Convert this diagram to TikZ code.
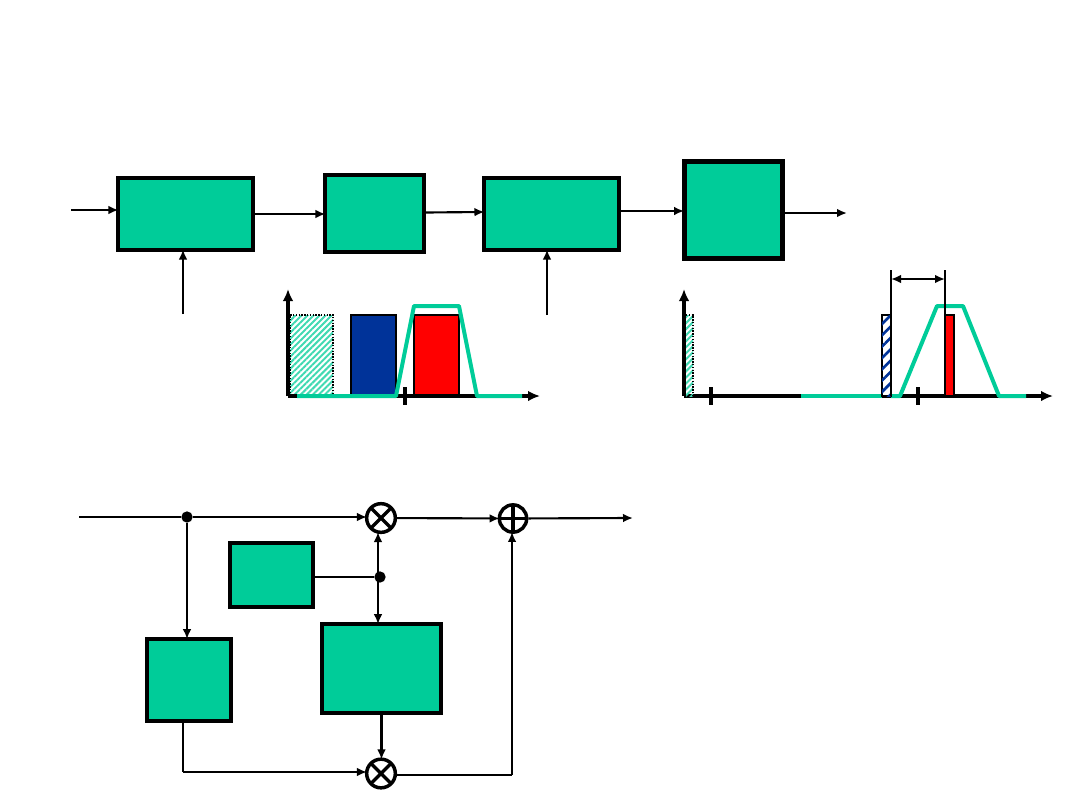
\documentclass[tikz,border=0pt]{standalone}
\usetikzlibrary{arrows.meta,patterns.meta}
\definecolor{boxgreen}{RGB}{0,204,153}
\definecolor{bandblue}{RGB}{0,51,153}
\tikzset{
    block/.style 2 args={draw, fill=boxgreen, line width=2.3pt, minimum width=#1*0.75pt, minimum height=#2*0.75pt, inner sep=0pt},
    sig/.style={line width=1.6pt, shorten >=-1.5pt, -{Latex[length=7.5pt,width=6.5pt]}},
    wire/.style={line width=1.6pt},
    dot/.style={circle, fill, inner sep=0pt, minimum size=8.5pt},
    mult/.style={circle, draw, line width=2.6pt, minimum size=21.5pt, inner sep=0pt,
        path picture={\draw[line width=2.6pt] (path picture bounding box.north west) -- (path picture bounding box.south east)
            (path picture bounding box.north east) -- (path picture bounding box.south west);}},
    adder/.style={circle, draw, line width=2.6pt, minimum size=20.5pt, inner sep=0pt,
        path picture={\draw[line width=2.6pt] (path picture bounding box.north) -- (path picture bounding box.south)
            (path picture bounding box.east) -- (path picture bounding box.west);}},
    axis/.style={line width=2.4pt, -{Latex[length=9pt,width=8pt]}},
    tick/.style={line width=3pt},
    filter/.style={draw=boxgreen, line width=3pt, line join=round},
    bar/.style={draw, line width=1.7pt},
}
\begin{document}
\begin{tikzpicture}[x=0.75pt, y=-0.75pt]
    \useasboundingbox (0,0) rectangle (1080,810);

    % Upper chain
    \node[block={135}{72}] (mix1) at (185.5,214) {};
    \node[block={99}{77}] (filt1) at (374.5,213.5) {};
    \node[block={135}{72}] (mix2) at (551.5,214) {};
    \node[block={98}{97}, line width=3.6pt] (filt2) at (733.5,210) {};

    \coordinate (in) at (71,210);
    \coordinate (out) at (845,213);
    \coordinate (lo1) at (183,314);
    \coordinate (lo2) at (547,315);

    \draw[sig] (in) -- (in -| mix1.west);
    \draw[sig] (mix1.east) -- (mix1.east -| filt1.west);
    \draw[sig] ([yshift=0.75pt]filt1.east) -- ([yshift=1.5pt]mix2.west);
    \draw[sig] ([yshift=2.25pt]mix2.east) -- ([yshift=-0.75pt]filt2.west);
    \draw[sig] (out -| filt2.east) -- (out);
    \draw[sig] (lo1) -- (lo1 |- mix1.south);
    \draw[sig] (lo2) -- (lo2 |- mix2.south);

    % First spectrum
    \coordinate (o1) at (288,396);
    \fill[pattern={Lines[angle=45,distance=3.2pt,line width=1.5pt]}, pattern color=boxgreen!75] (290,315) rectangle (333,396);
    \draw[densely dotted, line width=1.1pt] (290,396) -- (290,315) -- (333,315) -- (333,396);
    \draw[bar, fill=bandblue] (351,315) rectangle (396,396);
    \draw[bar, fill=red] (414,315) rectangle (459,396);
    \draw[axis] (o1) -- (288,289);
    \draw[axis] (o1) -- (540,396);
    \draw[tick] (405,387) -- (405,405);
    \draw[filter] (297,396) -- (396,396) -- (414,306) -- (459,306) -- (477,396) -- (522,396);

    % Second spectrum
    \coordinate (o2) at (684,396);
    \draw[axis] (o2) -- (1053,396);
    \draw[filter] (801,396) -- (882,396);
    \draw[filter] (891,396) -- (900,396) -- (937,306) -- (963,306) -- (999,396) -- (1026,396);
    \fill[pattern={Lines[angle=45,distance=3.2pt,line width=1.5pt]}, pattern color=boxgreen!75] (686,315) rectangle (693,396);
    \draw[densely dotted, line width=1.1pt] (686,315) -- (693,315) -- (693,396);
    \draw[axis] (o2) -- (684,289);
    \draw[tick] (711,387) -- (711,405);
    \draw[tick] (918,387) -- (918,405);
    \filldraw[bar, fill=white, postaction={pattern={Lines[angle=45,distance=6pt,line width=2pt]}, pattern color=bandblue}] (882,315) rectangle (891,396);
    \draw[bar, fill=red] (945,315) rectangle (954,396);
    \coordinate (m1) at (891,270);
    \coordinate (m2) at (945,270);
    \draw[wire] (m1) -- (891,396);
    \draw[wire] (m2) -- (945,396);
    \draw[line width=1.6pt, {Latex[length=7.5pt,width=6.5pt]}-{Latex[length=7.5pt,width=6.5pt]}] (891,279) -- (945,279);

    % Lower circuit
    \node[block={83}{64}, line width=2.8pt] (osc) at (271.5,575) {};
    \node[block={84}{82}, line width=2.8pt] (dly) at (189,680) {};
    \node[block={119}{89}, line width=2.8pt] (hil) at (381.5,668.5) {};
    \node[mult] (m3) at (381,518) {};
    \node[mult] (m4) at (381,773.5) {};
    \node[adder] (sum) at (513,518.5) {};
    \node[dot] (split) at (187,517) {};
    \node[dot] (tap) at (380,577) {};

    \coordinate (in2) at (79,517);
    \coordinate (out2) at (631,518);
    \coordinate (c1) at (183,772);
    \coordinate (c2) at (512,775);
    \coordinate (c3) at (378,577);

    \draw[sig] (in2) -- (split) -- (split -| m3.west);
    \draw[sig] (split) -- (split |- dly.north);
    \draw[wire] (osc.east |- tap) -- (tap);
    \draw[sig] (c3) -- (c3 |- m3.south);
    \draw[sig] (c3) -- (c3 |- hil.north);
    \draw[sig] (m3) -- (sum);
    \draw[sig] (sum) -- (out2);
    \draw[wire] (c1 |- dly.south) -- (c1);
    \draw[sig] (c1) -- (c1 -| m4.west);
    \draw[sig] (hil.south) -- (hil.south |- m4.north);
    \draw[wire] (c2 -| m4.east) -- (c2);
    \draw[sig] (c2) -- (c2 |- sum.south);

\end{tikzpicture}
\end{document}
